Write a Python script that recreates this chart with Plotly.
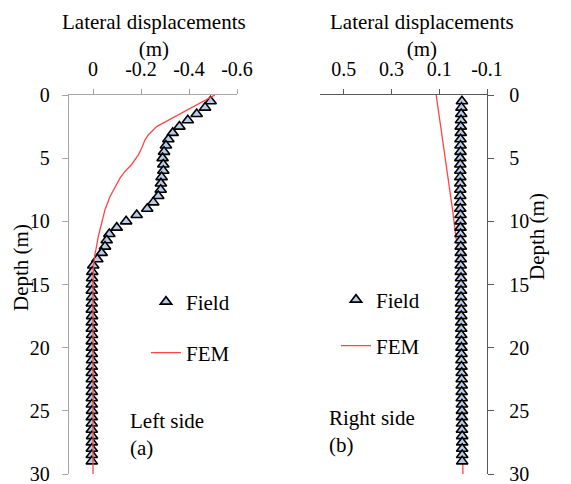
import plotly.graph_objects as go

# ---------------- data ----------------
depth_field = [0.5, 1.0, 1.5, 2.0, 2.5, 3.0, 3.5, 4.0, 4.5, 5.0,
               5.5, 6.0, 6.5, 7.0, 7.5, 8.0, 8.5, 9.0, 9.5, 10.0,
               10.5, 11.0, 11.5, 12.0, 12.5, 13.0, 13.5, 14.0, 14.5, 15.0,
               15.5, 16.0, 16.5, 17.0, 17.5, 18.0, 18.5, 19.0, 19.5, 20.0,
               20.5, 21.0, 21.5, 22.0, 22.5, 23.0, 23.5, 24.0, 24.5, 25.0,
               25.5, 26.0, 26.5, 27.0, 27.5, 28.0, 28.5, 29.0]

field_left = [-0.490, -0.467, -0.432, -0.395, -0.360, -0.332, -0.314, -0.304, -0.296, -0.290,
              -0.293, -0.293, -0.286, -0.283, -0.282, -0.272, -0.251, -0.226, -0.182, -0.138,
              -0.099, -0.068, -0.057, -0.050, -0.036, -0.018, -0.001, 0.003, 0.004, 0.005,
              0.005, 0.004, 0.005, 0.005, 0.004, 0.005, 0.005, 0.004, 0.005, 0.005,
              0.005, 0.004, 0.005, 0.005, 0.005, 0.004, 0.005, 0.005, 0.005, 0.004,
              0.005, 0.005, 0.005, 0.004, 0.005, 0.005, 0.005, 0.005]

field_right = [0.005, 0.007, 0.008, 0.009, 0.010, 0.010, 0.011, 0.011, 0.011, 0.012,
               0.012, 0.012, 0.012, 0.012, 0.012, 0.012, 0.012, 0.012, 0.011, 0.011,
               0.011, 0.011, 0.011, 0.010, 0.010, 0.010, 0.010, 0.010, 0.009, 0.009,
               0.009, 0.009, 0.009, 0.008, 0.008, 0.008, 0.008, 0.008, 0.007, 0.007,
               0.007, 0.007, 0.007, 0.006, 0.006, 0.006, 0.006, 0.006, 0.005, 0.005,
               0.005, 0.005, 0.005, 0.004, 0.004, 0.004, 0.004, 0.004]

depth_fem_left = [0.0, 1.0, 2.0, 2.5, 3.16, 3.55, 4.2, 4.74, 5.5, 6.05, 6.58, 7.24,
                  8.03, 9.08, 10.1, 11.2, 12.2, 12.6, 13.5, 15.0, 20.0, 25.0, 30.0]
fem_left = [-0.508, -0.41, -0.31, -0.265, -0.230, -0.217, -0.203, -0.189, -0.161, -0.133,
            -0.1125, -0.092, -0.071, -0.050, -0.036, -0.022, -0.0125, -0.008, -0.002,
            0.000, 0.000, 0.000, 0.000]

depth_fem_right = [0.0, 3.0, 6.0, 9.0, 11.4, 13.0, 15.0, 20.0, 25.0, 30.0]
fem_right = [0.113, 0.090, 0.068, 0.045, 0.029, 0.012, 0.006, 0.004, 0.002, 0.001]

x_ticks_left = [0, -0.2, -0.4, -0.6]
x_ticktext_left = ["0", "-0.2", "-0.4", "-0.6"]
x_ticks_right = [0.5, 0.3, 0.1, -0.1]
x_ticktext_right = ["0.5", "0.3", "0.1", "-0.1"]
depth_ticks = [0, 5, 10, 15, 20, 25, 30]

# ---------------- figure ----------------
W, H = 571, 484
FONT = "Liberation Serif"
GREY = "#a6a6a6"
DARK = "#595959"
FEM_RED = "#ff4545"

def px(x):
    return x / W

def py(y):
    return 1 - y / H

marker = dict(symbol="triangle-up", size=10, color="#b8cbe8",
              line=dict(color="black", width=1.6))

fig = go.Figure()
fig.add_trace(go.Scatter(x=field_left, y=depth_field, mode="markers", name="Field",
                         marker=marker, xaxis="x", yaxis="y", legend="legend",
                         showlegend=True))
fig.add_trace(go.Scatter(x=fem_left, y=depth_fem_left, mode="lines", name="FEM",
                         line=dict(color=FEM_RED, width=1.3), xaxis="x", yaxis="y",
                         legend="legend2", showlegend=True))
fig.add_trace(go.Scatter(x=fem_right, y=depth_fem_right, mode="lines", name="FEM",
                         line=dict(color=FEM_RED, width=1.3), xaxis="x2", yaxis="y2",
                         legend="legend4", showlegend=True))
fig.add_trace(go.Scatter(x=field_right, y=depth_field, mode="markers", name="Field",
                         marker=marker, xaxis="x2", yaxis="y2", legend="legend3",
                         showlegend=True))

ydom = [py(474), py(95)]
tickfont = dict(family=FONT, size=20, color="black")

common_x = dict(side="top", ticks="outside", ticklen=5, showgrid=False, zeroline=False,
                showline=True, linewidth=1.3, tickfont=tickfont, ticklabelstandoff=5,
                automargin=False, ticklabeloverflow="allow")
common_y = dict(range=[30, 0], tickvals=depth_ticks, ticks="outside", ticklen=6,
                showgrid=False, zeroline=False, showline=True, linewidth=1.3,
                tickfont=tickfont, automargin=False, ticklabeloverflow="allow")

legend_common = dict(font=dict(family=FONT, size=21, color="black"),
                     bgcolor="rgba(0,0,0,0)", xanchor="left", yanchor="middle",
                     itemsizing="trace")

fig.update_layout(
    template="none",
    width=W, height=H,
    showlegend=True,
    margin=dict(l=0, r=0, t=0, b=0, autoexpand=False),
    paper_bgcolor="white", plot_bgcolor="white",
    font=dict(family=FONT, size=20, color="black"),
    xaxis=dict(domain=[px(69), px(237)], range=[0.1, -0.6], anchor="y",
               tickvals=x_ticks_left, ticktext=x_ticktext_left,
               linecolor=GREY, tickcolor=GREY, **common_x),
    yaxis=dict(domain=ydom, anchor="x", side="left", ticklabelstandoff=8,
               linecolor=GREY, tickcolor=GREY, **common_y),
    xaxis2=dict(domain=[px(320), px(487)], range=[0.6, -0.1], anchor="y2",
                tickvals=x_ticks_right, ticktext=x_ticktext_right,
                linecolor=DARK, tickcolor=DARK, **common_x),
    yaxis2=dict(domain=ydom, anchor="x2", side="right", ticklabelstandoff=11,
                linecolor=DARK, tickcolor=DARK, **common_y),
    legend=dict(x=px(146), y=py(302), **legend_common),
    legend2=dict(x=px(146), y=py(353), **legend_common),
    legend3=dict(x=px(336), y=py(300), **legend_common),
    legend4=dict(x=px(336), y=py(346), **legend_common),
)

ann_font = dict(family=FONT, size=21, color="black")
annotations = [
    dict(text="Lateral displacements<br>(m)", x=px(154), y=py(35)),
    dict(text="Lateral displacements<br>(m)", x=px(422), y=py(35)),
]
for a in annotations:
    fig.add_annotation(xref="paper", yref="paper", xanchor="center", yanchor="middle",
                       showarrow=False, align="center", font=ann_font, **a)

fig.add_annotation(text="Depth (m)", xref="paper", yref="paper", x=px(21), y=py(268),
                   textangle=-90, showarrow=False, font=ann_font,
                   xanchor="center", yanchor="middle")
fig.add_annotation(text="Depth (m)", xref="paper", yref="paper", x=px(537), y=py(237),
                   textangle=-90, showarrow=False, font=ann_font,
                   xanchor="center", yanchor="middle")
fig.add_annotation(text="Left side<br>(a)", xref="paper", yref="paper", x=px(128), y=py(434),
                   showarrow=False, font=ann_font, align="left",
                   xanchor="left", yanchor="middle")
fig.add_annotation(text="Right side<br>(b)", xref="paper", yref="paper", x=px(327), y=py(431),
                   showarrow=False, font=ann_font, align="left",
                   xanchor="left", yanchor="middle")

fig.write_html("out.html")
